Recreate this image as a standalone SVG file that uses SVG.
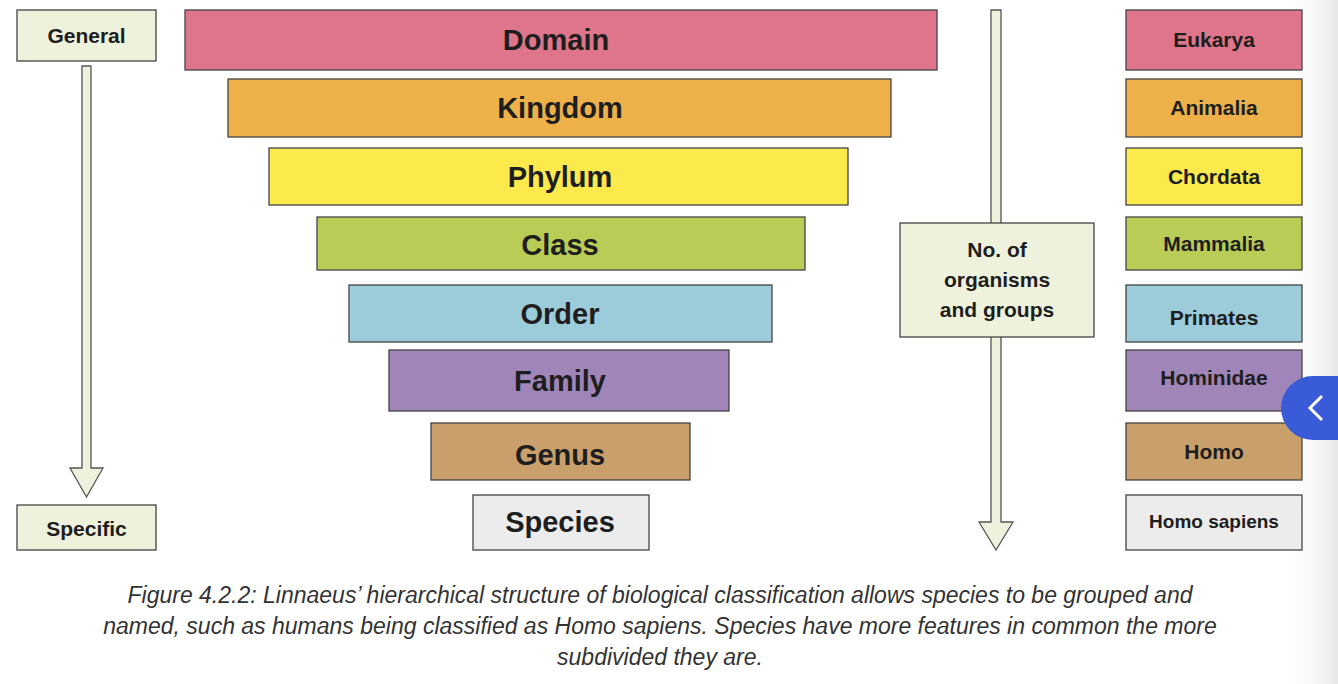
<svg xmlns="http://www.w3.org/2000/svg" width="1338" height="684" viewBox="0 0 1338 684">
<defs>
<linearGradient id="fade" x1="0" x2="1" y1="0" y2="0"><stop offset="0" stop-color="#fff" stop-opacity="0"/><stop offset="1" stop-color="#e8e8e8"/></linearGradient>
</defs>
<style>
.b{stroke:#444;stroke-width:1.3}
.t{font-family:"Liberation Sans",Arial,sans-serif;font-weight:bold;fill:#1e1e1e;text-anchor:middle}
.big{font-size:29px}
.sm{font-size:21px}
.cap{font-family:"Liberation Sans",Arial,sans-serif;font-style:italic;font-size:23px;fill:#333;text-anchor:middle}
.ar{fill:#eef2dc;stroke:#555;stroke-width:1.3}
</style>
<rect width="1338" height="684" fill="#fff"/>
<rect x="1280" y="0" width="58" height="684" fill="url(#fade)"/>
<g id="connectors">
<path class="ar" d="M82,66 H91 V468 H103 L86.5,497 L70,468 H82 Z"/>
<path class="ar" d="M991,10 H1001 V522 H1013 L996,550 L979,522 H991 Z"/>
</g>
<g id="general"><rect class="b" x="17" y="10" width="139" height="51" fill="#eef2dc"/><text class="t sm" x="86.5" y="43">General</text></g>
<g id="specific"><rect class="b" x="17" y="505" width="139" height="45" fill="#eef2dc"/><text class="t sm" x="86.5" y="536">Specific</text></g>
<g id="domain"><rect class="b" x="185" y="10" width="752" height="60" fill="#de758a"/><text class="t big" x="556" y="50">Domain</text></g>
<g id="kingdom"><rect class="b" x="228" y="79" width="663" height="58" fill="#eeb048"/><text class="t big" x="560" y="118">Kingdom</text></g>
<g id="phylum"><rect class="b" x="269" y="148" width="579" height="57" fill="#fce94c"/><text class="t big" x="560" y="187">Phylum</text></g>
<g id="class"><rect class="b" x="317" y="217" width="488" height="53" fill="#b9cc56"/><text class="t big" x="560" y="255">Class</text></g>
<g id="order"><rect class="b" x="349" y="285" width="423" height="57" fill="#9ccbda"/><text class="t big" x="560" y="324">Order</text></g>
<g id="family"><rect class="b" x="389" y="350" width="340" height="61" fill="#a085b8"/><text class="t big" x="560" y="391">Family</text></g>
<g id="genus"><rect class="b" x="431" y="423" width="259" height="57" fill="#c9a06b"/><text class="t big" x="560" y="465">Genus</text></g>
<g id="species"><rect class="b" x="473" y="495" width="176" height="55" fill="#ececec"/><text class="t big" x="560" y="532">Species</text></g>
<g id="count"><rect class="b" x="900" y="223" width="194" height="114" fill="#eef2dc"/><text class="t sm" x="997" y="257">No. of</text><text class="t sm" x="997" y="287">organisms</text><text class="t sm" x="997" y="317">and groups</text></g>
<g id="eukarya"><rect class="b" x="1126" y="10" width="176" height="60" fill="#de758a"/><text class="t sm" x="1214" y="47">Eukarya</text></g>
<g id="animalia"><rect class="b" x="1126" y="79" width="176" height="58" fill="#eeb048"/><text class="t sm" x="1214" y="115">Animalia</text></g>
<g id="chordata"><rect class="b" x="1126" y="148" width="176" height="57" fill="#fce94c"/><text class="t sm" x="1214" y="184">Chordata</text></g>
<g id="mammalia"><rect class="b" x="1126" y="217" width="176" height="53" fill="#b9cc56"/><text class="t sm" x="1214" y="251">Mammalia</text></g>
<g id="primates"><rect class="b" x="1126" y="285" width="176" height="57" fill="#9ccbda"/><text class="t sm" x="1214" y="325">Primates</text></g>
<g id="hominidae"><rect class="b" x="1126" y="350" width="176" height="61" fill="#a085b8"/><text class="t sm" x="1214" y="385">Hominidae</text></g>
<g id="homo"><rect class="b" x="1126" y="423" width="176" height="57" fill="#c9a06b"/><text class="t sm" x="1214" y="459">Homo</text></g>
<g id="homosapiens"><rect class="b" x="1126" y="495" width="176" height="55" fill="#ececec"/><text class="t" font-size="19" x="1214" y="528">Homo sapiens</text></g>
<g id="button"><path d="M1338,376 H1313 A32,32 0 0 0 1313,440 H1338 Z" fill="#3a5bd8"/><path d="M1322,396 L1310,408 L1322,420" fill="none" stroke="#fff" stroke-width="3"/></g>
<g id="caption">
<text class="cap" x="660" y="603">Figure 4.2.2: Linnaeus’ hierarchical structure of biological classification allows species to be grouped and</text>
<text class="cap" x="660" y="634">named, such as humans being classified as Homo sapiens. Species have more features in common the more</text>
<text class="cap" x="660" y="665">subdivided they are.</text>
</g>
</svg>
